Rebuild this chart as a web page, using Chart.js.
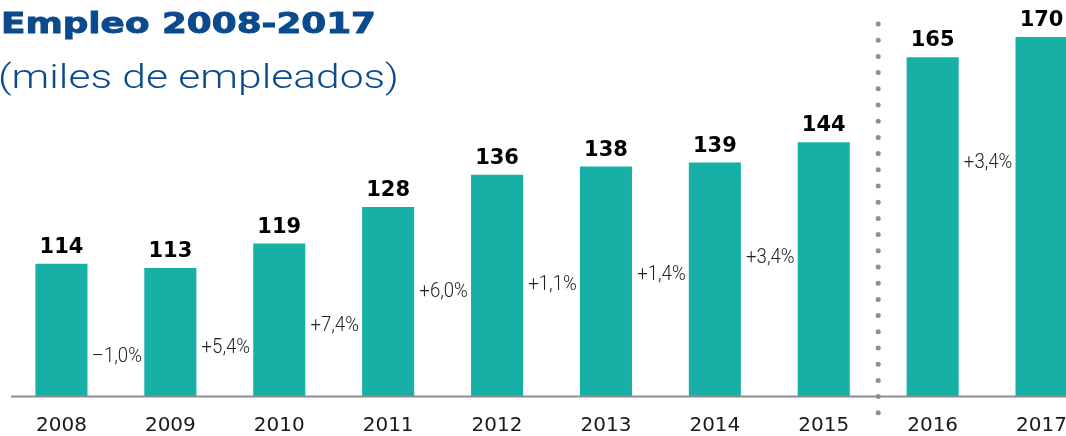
<!DOCTYPE html>
<html>
<head>
<meta charset="utf-8">
<script src="https://cdn.jsdelivr.net/npm/chart.js@4/dist/chart.umd.min.js"></script>
<style>
  html, body { margin: 0; padding: 0; background: #fff; overflow: hidden; }
  #wrap { width: 1066px; height: 436px; overflow: hidden; }
  canvas { display: block; }
</style>
</head>
<body>
<div id="wrap"><canvas id="empleo" width="1096" height="436"></canvas></div>
<script>
// datos
const years = ['2008', '2009', '2010', '2011', '2012', '2013', '2014', '2015', '2016', '2017'];
const employees = [114, 113, 119, 128, 136, 138, 139, 144, 165, 170];
// variación entre un año y el siguiente (tal como aparece en la imagen)
const changes = ['–1,0%', '+5,4%', '+7,4%', '+6,0%', '+1,1%', '+1,4%', '+3,4%', '', '+3,4%'];
// altura (en miles) a la que va cada etiqueta de variación
const changeLevels = [91, 93.2, 98.7, 107.1, 108.8, 111.3, 115.4, null, 138.9];

const BLUE = '#0b4a8c';
const TEAL = '#17b0a7';

const extras = {
  id: 'extras',
  afterDatasetsDraw(chart) {
    const { ctx, chartArea, scales } = chart;
    const bars = chart.getDatasetMeta(0).data;
    ctx.save();

    // línea base
    ctx.strokeStyle = '#8c8c8c';
    ctx.lineWidth = 2;
    ctx.beginPath();
    ctx.moveTo(11, chartArea.bottom + 0.5);
    ctx.lineTo(chart.width, chartArea.bottom + 0.5);
    ctx.stroke();

    // separador punteado entre 2015 y 2016
    const sx = (bars[7].x + bars[8].x) / 2;
    ctx.fillStyle = '#8f8f8f';
    for (let y = 24; y <= 414; y += 16.2) {
      ctx.beginPath();
      ctx.arc(sx, y, 2.5, 0, Math.PI * 2);
      ctx.fill();
    }

    // valores sobre las barras
    ctx.fillStyle = '#000';
    ctx.font = 'bold 21px "DejaVu Sans"';
    ctx.textAlign = 'center';
    ctx.textBaseline = 'alphabetic';
    bars.forEach((b, i) => {
      ctx.fillText(String(employees[i]), b.x, b.y - 11);
    });

    // variaciones entre barras
    ctx.fillStyle = '#222';
    ctx.font = '300 20px Roboto';
    ctx.textBaseline = 'middle';
    changes.forEach((t, i) => {
      if (!t) return;
      const x = (bars[i].x + bars[i + 1].x) / 2 + 1;
      const y = scales.y.getPixelForValue(changeLevels[i]);
      ctx.save();
      ctx.translate(x, y);
      ctx.scale(0.93, 1);
      ctx.fillText(t, 0, 0);
      ctx.restore();
    });

    // títulos
    ctx.textAlign = 'left';
    ctx.textBaseline = 'alphabetic';
    ctx.fillStyle = BLUE;
    ctx.strokeStyle = BLUE;
    ctx.lineWidth = 0.9;
    ctx.font = 'bold 28px "DejaVu Sans"';
    let w = ctx.measureText('Empleo 2008-2017').width;
    ctx.save();
    ctx.translate(1, 33);
    ctx.scale(375 / w, 1);
    ctx.fillText('Empleo 2008-2017', 0, 0);
    ctx.strokeText('Empleo 2008-2017', 0, 0);
    ctx.restore();

    ctx.font = '300 33px Roboto';
    w = ctx.measureText('(miles de empleados)').width;
    ctx.save();
    ctx.translate(-2, 88);
    ctx.scale(401 / w, 1);
    ctx.fillText('(miles de empleados)', 0, 0);
    ctx.restore();

    ctx.restore();
  }
};

new Chart(document.getElementById('empleo'), {
  type: 'bar',
  data: {
    labels: years,
    datasets: [{
      data: employees,
      backgroundColor: TEAL,
      borderWidth: 0,
      categoryPercentage: 1,
      barPercentage: 0.478
    }]
  },
  options: {
    responsive: false,
    animation: false,
    layout: { padding: { left: 7, right: 0, top: 0, bottom: 0 } },
    plugins: {
      legend: { display: false },
      tooltip: { enabled: false }
    },
    scales: {
      x: {
        grid: { display: false, drawTicks: false },
        border: { display: false },
        ticks: {
          color: '#1a1a1a',
          font: { family: 'DejaVu Sans', size: 20 },
          padding: 18
        },
        afterFit(scale) { scale.height = 40; }
      },
      y: {
        display: false,
        min: 81.4,
        max: 179.1
      }
    }
  },
  plugins: [extras]
});
</script>
</body>
</html>
